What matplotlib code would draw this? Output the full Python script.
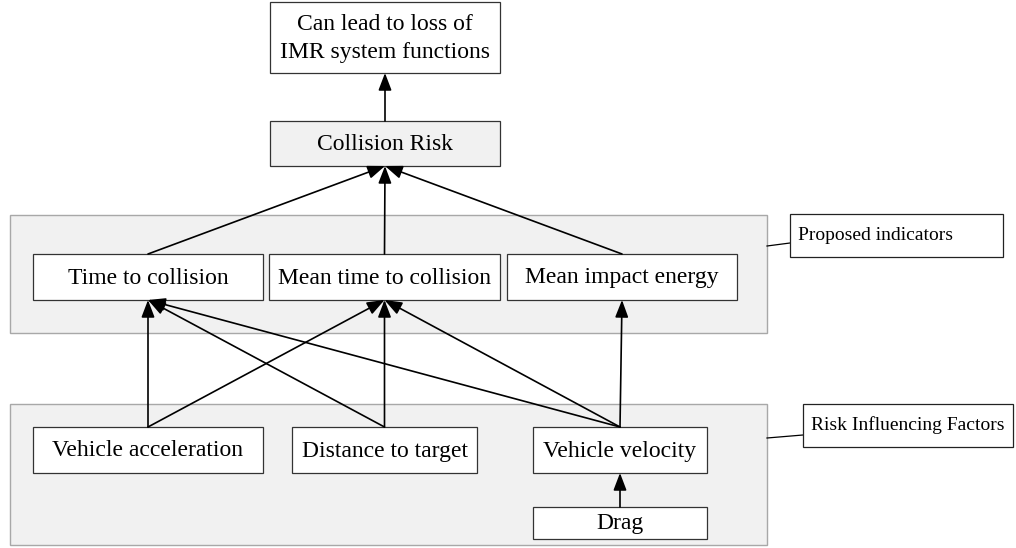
import matplotlib.pyplot as plt
from matplotlib.patches import Rectangle, FancyArrowPatch

plt.rcParams['font.family'] = ['Liberation Serif', 'DejaVu Serif']

# node labels
top_node = "Can lead to loss of\nIMR system functions"
risk_node = "Collision Risk"
indicators = ["Time to collision", "Mean time to collision", "Mean impact energy"]
factors = ["Vehicle acceleration", "Distance to target", "Vehicle velocity", "Drag"]
group_labels = ["Proposed indicators", "Risk Influencing Factors"]

# edges: (source, target)
edges = [
    (risk_node, top_node),
    ("Time to collision", risk_node),
    ("Mean time to collision", risk_node),
    ("Mean impact energy", risk_node),
    ("Vehicle acceleration", "Time to collision"),
    ("Distance to target", "Time to collision"),
    ("Vehicle velocity", "Time to collision"),
    ("Vehicle acceleration", "Mean time to collision"),
    ("Distance to target", "Mean time to collision"),
    ("Vehicle velocity", "Mean time to collision"),
    ("Vehicle velocity", "Mean impact energy"),
    ("Drag", "Vehicle velocity"),
]

# layout in pixels (x0, y0, x1, y1), y down
layout = {
    top_node: (270, 2, 500, 73),
    risk_node: (270, 121, 500, 166),
    "Time to collision": (33, 254, 263, 300),
    "Mean time to collision": (269, 254, 500, 300),
    "Mean impact energy": (507, 254, 737, 300),
    "Vehicle acceleration": (33, 427, 263, 473),
    "Distance to target": (292, 427, 477, 473),
    "Vehicle velocity": (533, 427, 707, 473),
    "Drag": (533, 507, 707, 539),
}
groups = [(10, 215, 767, 333), (10, 404, 767, 545)]
label_boxes = [(790, 214, 1003, 257), (803, 404, 1013, 447)]
connectors = [((767, 246), (790, 243)), ((767, 438), (803, 435))]

fig = plt.figure(figsize=(10.16, 5.48), dpi=100)
ax = fig.add_axes([0, 0, 1, 1])
ax.set_xlim(0, 1016)
ax.set_ylim(548, 0)
ax.axis('off')

for x0, y0, x1, y1 in groups:
    ax.add_patch(Rectangle((x0, y0), x1 - x0, y1 - y0, facecolor='#f1f1f1',
                           edgecolor='#a8a8a8', lw=1.0, zorder=1))

for (a, b) in connectors:
    ax.plot([a[0], b[0]], [a[1], b[1]], color='black', lw=0.9, zorder=2)

for text, (x0, y0, x1, y1) in zip(group_labels, label_boxes):
    ax.add_patch(Rectangle((x0, y0), x1 - x0, y1 - y0, facecolor='white',
                           edgecolor='#222222', lw=0.9, zorder=3))
    ax.text(x0 + 8, (y0 + y1) / 2, text, ha='left', va='center',
            fontsize=14, zorder=4)

for name, (x0, y0, x1, y1) in layout.items():
    fc = '#f1f1f1' if name == risk_node else 'white'
    ax.add_patch(Rectangle((x0, y0), x1 - x0, y1 - y0, facecolor=fc,
                           edgecolor='#333333', lw=0.9, zorder=3))
    ax.text((x0 + x1) / 2, (y0 + y1) / 2 + 1, name, ha='center', va='center',
            fontsize=17, linespacing=1.4, zorder=4)

for src, dst in edges:
    sx0, sy0, sx1, sy1 = layout[src]
    dx0, dy0, dx1, dy1 = layout[dst]
    start = ((sx0 + sx1) / 2, sy0)
    end = ((dx0 + dx1) / 2, dy1)
    arr = FancyArrowPatch(start, end, arrowstyle='-|>,head_length=1.05,head_width=0.4',
                          mutation_scale=10, shrinkA=0, shrinkB=0,
                          color='black', lw=1.2, zorder=5)
    ax.add_patch(arr)

fig.savefig('out.png', dpi=100)
